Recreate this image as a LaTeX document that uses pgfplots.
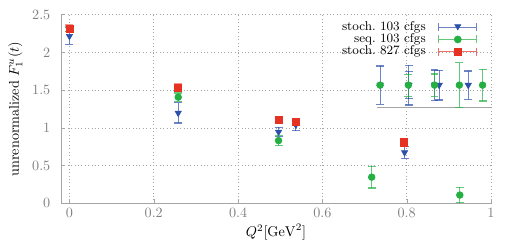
\documentclass[border=0pt]{standalone}
\usepackage{pgfplots}
\pgfplotsset{compat=1.18}
\usetikzlibrary{calc}
\definecolor{cB}{RGB}{45,80,170}
\definecolor{cG}{RGB}{35,175,65}
\definecolor{cR}{RGB}{230,50,35}
\definecolor{axgray}{RGB}{165,165,165}
\begin{document}
\begin{tikzpicture}
\begin{axis}[
  name=ax,
  scale only axis,
  width=303pt, height=133pt,
  xmin=-0.02, xmax=1, ymin=0, ymax=2.5,
  axis x line=bottom, axis y line=left,
  axis line style={axgray, -},
  xtick={0,0.2,0.4,0.6,0.8,1},
  ytick={0,0.5,1,1.5,2,2.5},
  xticklabels={0,0.2,0.4,0.6,0.8,1},
  yticklabels={0,0.5,1,1.5,2,2.5},
  tick style={axgray},
  tick align=inside,
  major tick length=3pt,
  ticklabel style={text=gray},
  yticklabel style={xshift=-4pt},
  grid=major,
  major grid style={axgray, dotted},
  xlabel={$Q^2[\mathrm{GeV}^2]$},
  ylabel={unrenormalized $F_1^u(t)$},
  xlabel style={yshift=3pt},
]
% gray line (legend artefact)
\addplot[axgray, line width=0.6pt] coordinates {(0.73,1.276) (1.0,1.276)};
% stoch. 103 cfgs
\addplot[only marks, mark=triangle*, mark size=2.6pt, color=cB,
  mark options={rotate=180, fill=cB, draw=cB},
  error bars/.cd, y dir=both, y explicit,
  error bar style={cB, opacity=0.7, line width=0.8pt},
  error mark options={rotate=90, mark size=2.8pt, cB, opacity=0.7, line width=0.8pt}]
  table[x=x, y=y, y error=e] {
  x y e
  0.0 2.215 0.11
  0.258 1.198 0.133
  0.496 0.946 0.06
  0.537 1.04 0.077
  0.795 0.675 0.081
  0.737 1.567 0.253
  0.805 1.567 0.264
  0.805 1.567 0.18
  0.866 1.567 0.2
  0.877 1.567 0.198
  0.946 1.567 0.187
  };
% seq. 103 cfgs
\addplot[only marks, mark=*, mark size=2.4pt, color=cG,
  mark options={fill=cG, draw=cG},
  error bars/.cd, y dir=both, y explicit,
  error bar style={cG, opacity=0.7, line width=0.8pt},
  error mark options={rotate=90, mark size=2.8pt, cG, opacity=0.7, line width=0.8pt}]
  table[x=x, y=y, y error=e] {
  x y e
  0.0 2.31 0.03
  0.258 1.407 0.055
  0.496 0.831 0.066
  0.717 0.347 0.143
  0.926 0.11 0.1
  0.737 1.566 0.0
  0.804 1.566 0.145
  0.866 1.566 0.148
  0.925 1.566 0.294
  0.98 1.566 0.21
  };
% stoch. 827 cfgs
\addplot[only marks, mark=square*, mark size=2.5pt, color=cR,
  mark options={fill=cR, draw=cR},
  error bars/.cd, y dir=both, y explicit,
  error bar style={cR, opacity=0.5, line width=0.8pt},
  error mark options={rotate=90, mark size=2.8pt, cR, opacity=0.5, line width=0.8pt}]
  table[x=x, y=y, y error=e] {
  x y e
  0.0 2.318 0.045
  0.258 1.534 0.05
  0.496 1.108 0.04
  0.537 1.082 0.04
  0.794 0.809 0.035
  };
\end{axis}
% legend
\foreach \lab/\col/\mk/\rot [count=\i] in {{stoch.\ 103 cfgs}/cB/triangle*/180, {seq.\ 103 cfgs}/cG/*/0, {stoch.\ 827 cfgs}/cR/square*/0} {
  \coordinate (L\i) at ($(ax.north east)+(-36.8pt,{-8.9pt-(\i-1)*8.6pt})$);
  \node[anchor=east, inner sep=0pt, font=\fontsize{9}{10}\selectfont] at ($(L\i)+(-9pt,0)$) {\lab};
  \draw[\col, opacity=0.7, line width=0.8pt] (L\i) -- ++(26.8pt,0)
     ($(L\i)+(0,-2.8pt)$) -- ++(0,5.6pt) ($(L\i)+(26.8pt,-2.8pt)$) -- ++(0,5.6pt);
  \node[inner sep=0pt] at ($(L\i)+(13.4pt,0)$) {\tikz\draw[\col, fill=\col, only marks, mark=\mk, mark size=2.5pt, mark options={rotate=\rot, fill=\col, draw=\col}] plot coordinates {(0,0)};};
}
\pgfresetboundingbox
\path[use as bounding box] ($(ax.south west)+(-43pt,-30.3pt)$) rectangle ($(ax.north east)+(15.5pt,10.3pt)$);
\end{tikzpicture}
\end{document}
